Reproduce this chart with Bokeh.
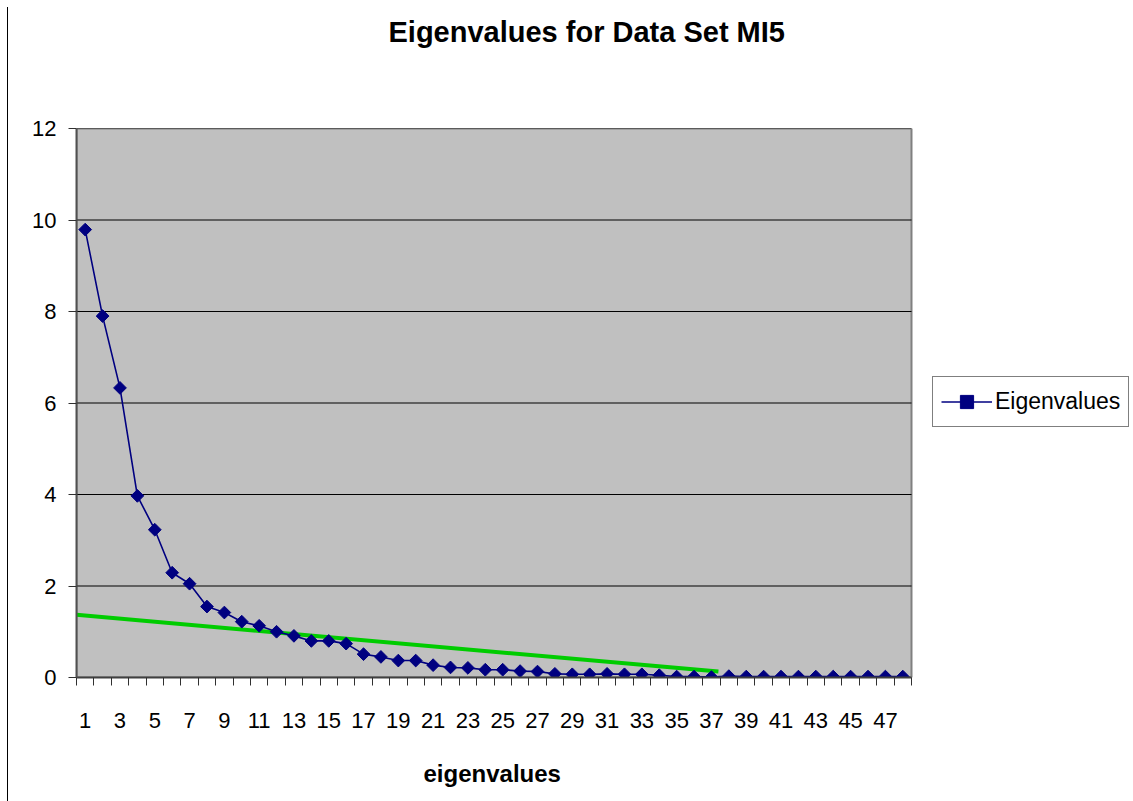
import math
from bokeh.plotting import figure
from bokeh.models import FixedTicker, Legend, LegendItem, Range1d, Title
from bokeh.embed import file_html
from bokeh.resources import INLINE

# ---- data ----
components = list(range(1, 49))
eigenvalues = [9.79, 7.90, 6.33, 3.97, 3.23, 2.29, 2.05, 1.55, 1.42, 1.22,
               1.13, 1.00, 0.91, 0.80, 0.80, 0.74, 0.51, 0.45, 0.37, 0.37,
               0.27, 0.22, 0.21, 0.17, 0.17, 0.14, 0.13, 0.08, 0.07, 0.07,
               0.08, 0.07, 0.07, 0.05, 0.02, 0.02, 0.01, 0.03, 0.02, 0.02,
               0.02, 0.02, 0.02, 0.02, 0.02, 0.02, 0.02, 0.02]
x_tick_values = list(range(1, 48, 2))
x_tick_labels = [str(v) for v in x_tick_values]
y_tick_values = [0, 2, 4, 6, 8, 10, 12]
cutoff_x = [0.5, 37.4]
cutoff_y = [1.37, 0.13]

title_text = "Eigenvalues for Data Set MI5"
x_title = "eigenvalues"
series_name = "Eigenvalues"

FONT = "Liberation Sans"

# ---- layout constants (pixels) ----
W, H = 1125, 794
LEFT, TOP, BOTTOM = 68, 121, 124
PLOT_W = 835                      # width of the grey plot area
frame_w = W - LEFT                # frame runs to the right edge (legend lives there)
x_lo, x_hi = components[0] - 0.5, components[-1] + 0.5
x_end = x_lo + (x_hi - x_lo) * frame_w / PLOT_W
y_lo, y_hi = y_tick_values[0], y_tick_values[-1]

p = figure(width=W, height=H, output_backend="svg", toolbar_location=None,
           x_range=Range1d(x_lo, x_end), y_range=Range1d(y_lo, y_hi),
           min_border_left=LEFT, min_border_right=0, min_border_top=TOP,
           min_border_bottom=BOTTOM, title=None)
p.styles = {"margin-left": "7px", "margin-top": "7px",
            "border-left": "1px solid #000000"}

p.background_fill_color = "white"
p.border_fill_color = "white"
p.outline_line_color = None
p.xgrid.visible = False
p.ygrid.visible = False

# grey plot area and horizontal gridlines
p.quad(left=[x_lo], right=[x_hi], bottom=[y_lo], top=[y_hi],
       fill_color="#C0C0C0", line_color="#808080", line_width=2)
p.segment(x0=[x_lo] * len(y_tick_values), x1=[x_hi] * len(y_tick_values),
          y0=y_tick_values, y1=y_tick_values, line_color="#000000", line_width=1)

# x axis
xa = p.xaxis[0]
xa.bounds = (x_lo, x_hi)
xa.ticker = FixedTicker(ticks=x_tick_values,
                        minor_ticks=[c - 0.5 for c in components] + [x_hi])
xa.major_label_overrides = {v: s for v, s in zip(x_tick_values, x_tick_labels)}
xa.major_tick_out = 0
xa.major_tick_in = 0
xa.minor_tick_out = 8
xa.minor_tick_in = 0
xa.minor_tick_line_color = "#303030"
xa.axis_line_color = "#404040"
xa.axis_line_width = 2
xa.major_label_text_font = FONT
xa.major_label_text_font_size = "22px"
xa.major_label_text_color = "black"
xa.major_label_standoff = 27

# y axis
ya = p.yaxis[0]
ya.ticker = FixedTicker(ticks=y_tick_values)
ya.major_tick_out = 8
ya.major_tick_in = 0
ya.minor_tick_out = 0
ya.minor_tick_in = 0
ya.major_tick_line_color = "#303030"
ya.axis_line_color = "#505050"
ya.axis_line_width = 2
ya.major_label_text_font = FONT
ya.major_label_text_font_size = "22px"
ya.major_label_text_color = "black"
ya.major_label_standoff = 12

# green cutoff line
p.line(cutoff_x, cutoff_y, line_color="#00CC00", line_width=4)

# series
lr = p.line(components, eigenvalues, line_color="#000080", line_width=1.6)
sr = p.scatter(components, eigenvalues, marker="square", angle=math.pi / 4,
               size=9, fill_color="#000080", line_color="#000080")

legend = Legend(items=[LegendItem(label=series_name, renderers=[lr, sr])],
                location=(856, 250))
legend.border_line_color = "#000000"
legend.border_line_width = 1
legend.background_fill_color = "white"
legend.background_fill_alpha = 1
legend.label_text_font = FONT
legend.label_text_font_size = "23px"
legend.label_text_color = "black"
legend.padding = 8
legend.margin = 0
legend.glyph_width = 51
legend.glyph_height = 33
legend.label_height = 33
legend.label_standoff = 3
p.add_layout(legend, "center")

# spacer between frame and title, then the title itself (further from frame)
p.add_layout(Title(text=" ", text_font_size="57px"), "above")
p.add_layout(Title(text=title_text, text_font=FONT, text_font_size="29px",
                   text_font_style="bold", text_color="black", align="left",
                   offset=312), "above")

# spacer under the tick labels, then the x-axis title under the grey plot area
p.add_layout(Title(text=" ", text_font_size="9px"), "below")
p.add_layout(Title(text=x_title, text_font=FONT, text_font_size="24px",
                   text_font_style="bold", text_color="black", align="left",
                   offset=347), "below")

open("out.html", "w").write(file_html(p, INLINE))
